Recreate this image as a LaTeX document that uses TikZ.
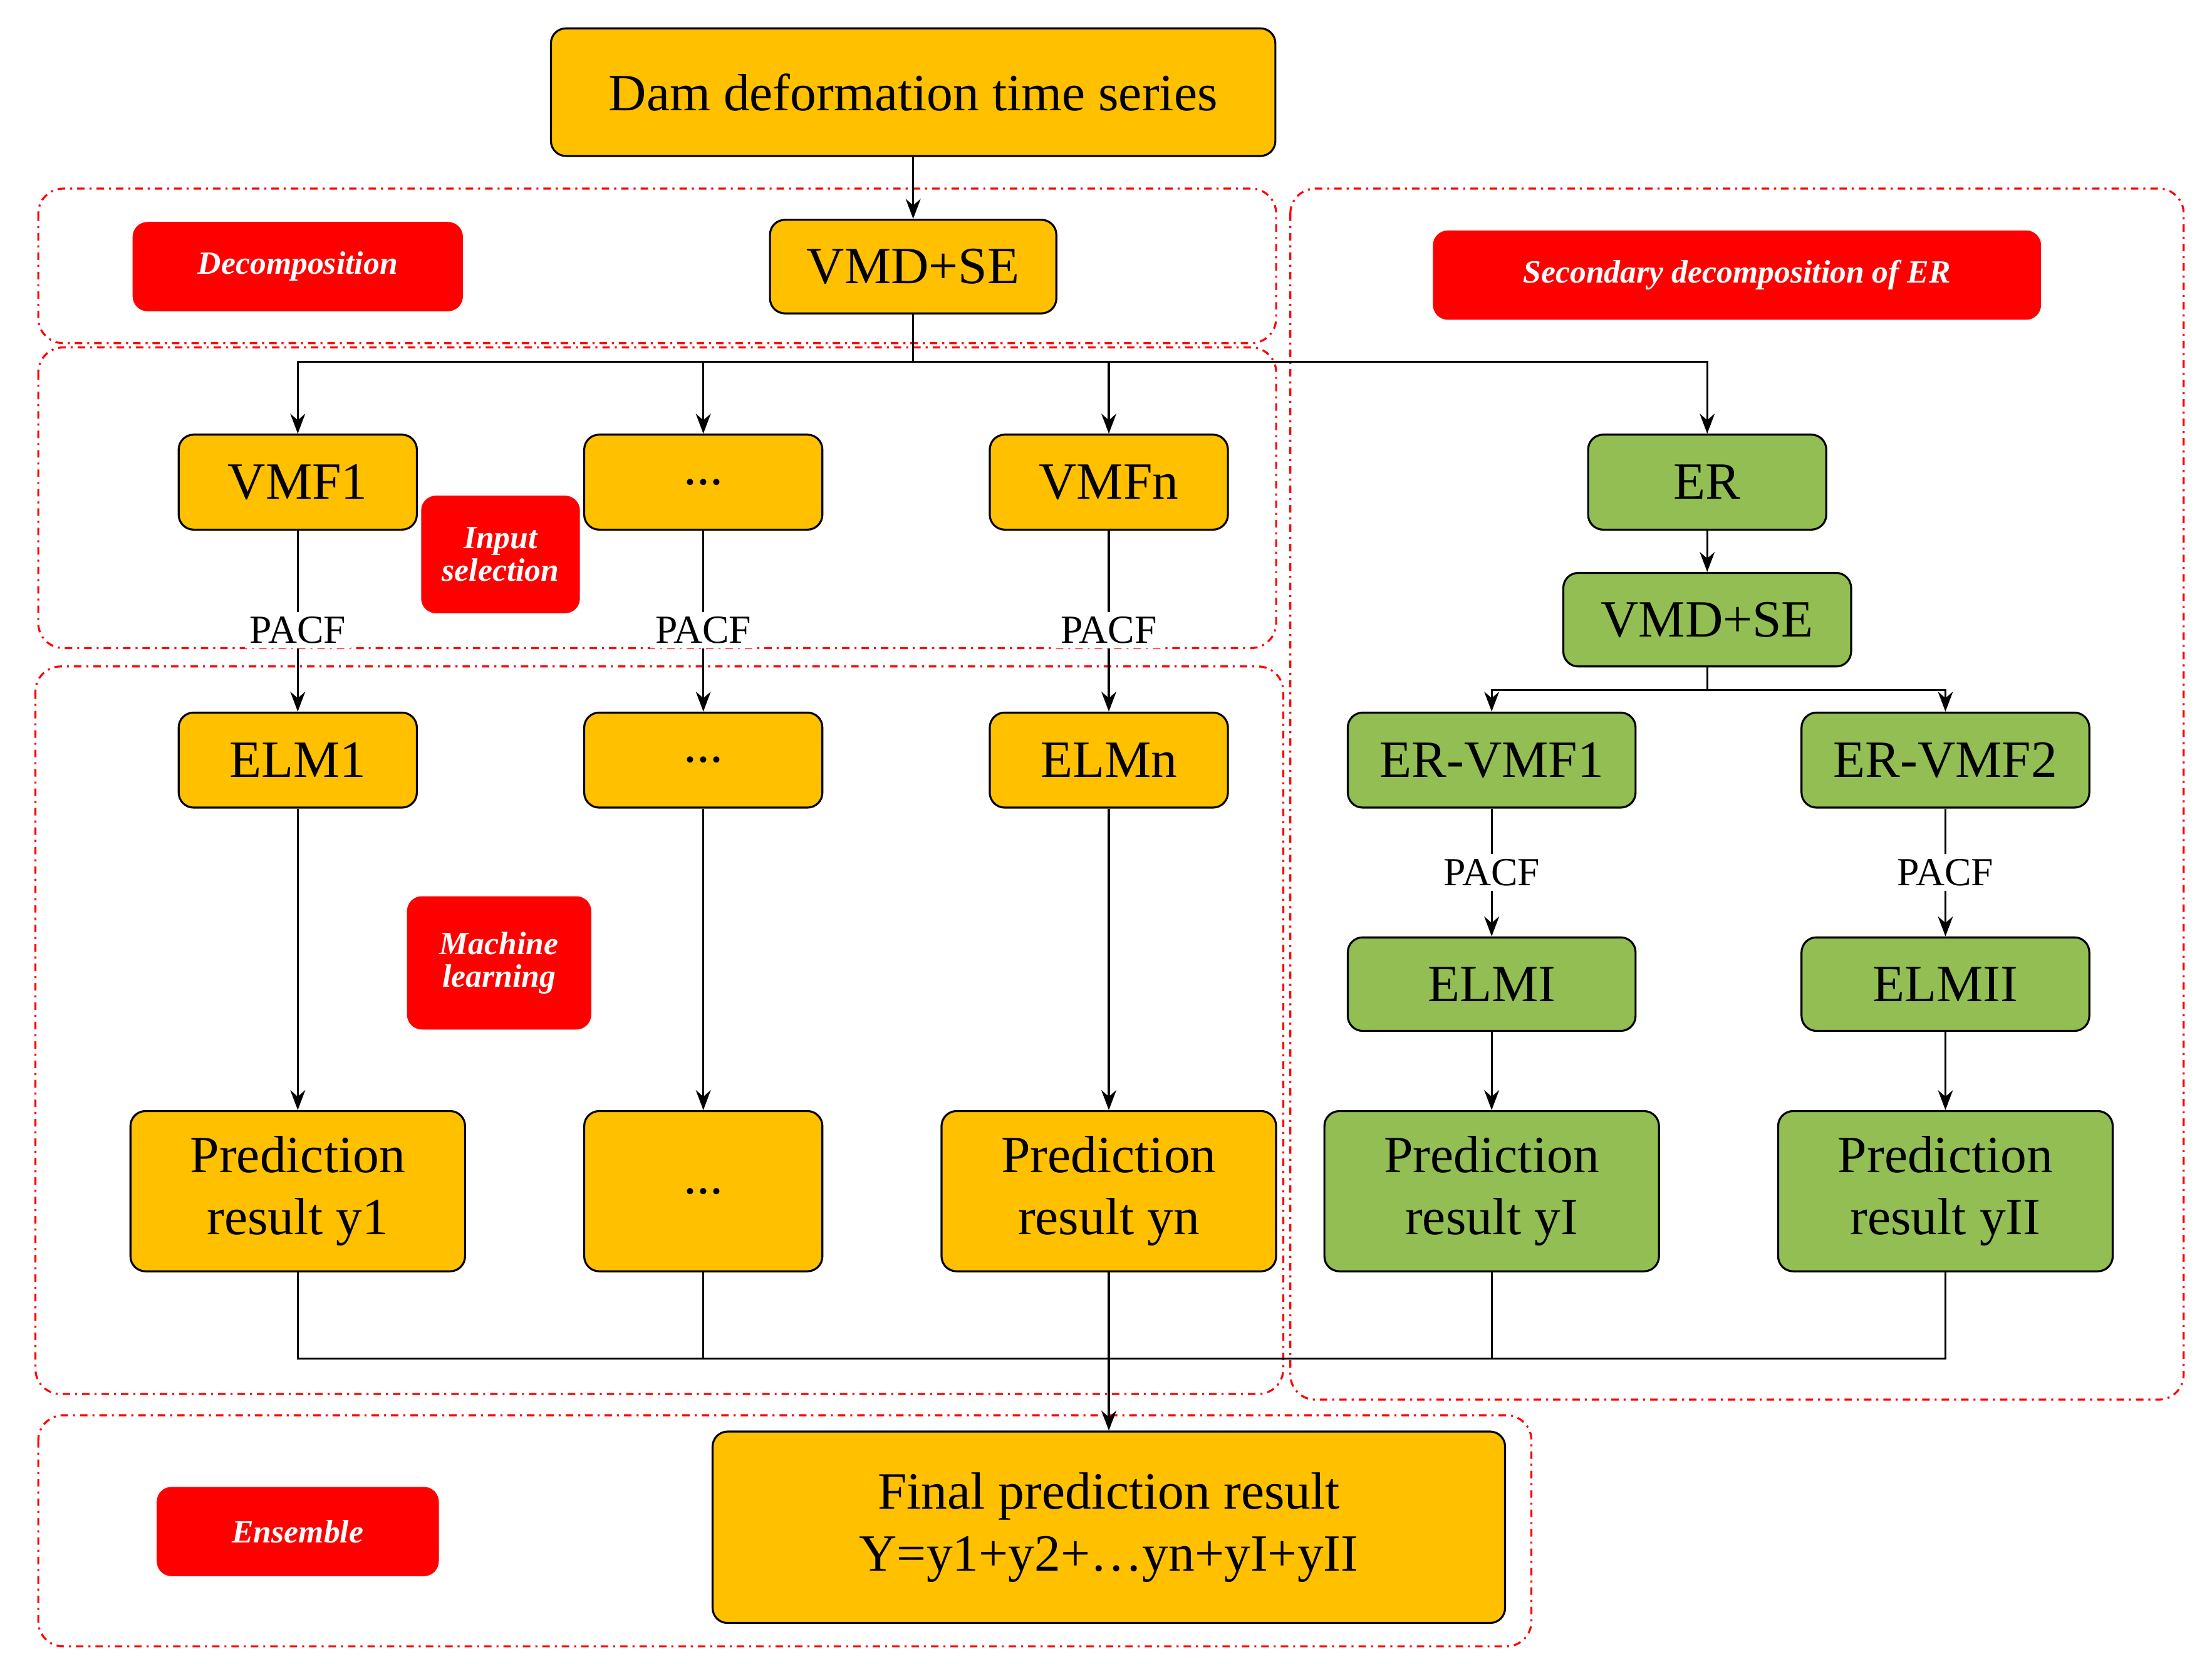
\documentclass[tikz,border=0pt]{standalone}
\usepackage{fontspec}
\setmainfont{Liberation Serif}
\usetikzlibrary{arrows.meta}
\definecolor{boxor}{RGB}{255,192,0}
\definecolor{boxgr}{RGB}{146,190,84}
\tikzset{
  box/.style={draw, thick, rounded corners=6pt, fill=boxor, align=center, font=\fontsize{21}{25}\selectfont},
  gbox/.style={box, fill=boxgr},
  tag/.style={fill=red, rounded corners=6pt, text=white, align=center, font=\fontsize{13}{16}\selectfont\bfseries\itshape},
  region/.style={draw=red, thick, dash dot, rounded corners=10pt},
  pacf/.style={fill=white, inner sep=2pt, font=\fontsize{16}{19}\selectfont},
  link/.style={thick},
  arr/.style={thick, -{Stealth[length=8pt]}}
}
\begin{document}
\begin{tikzpicture}[x=0.02cm, y=-0.02cm]
\useasboundingbox (0,0) rectangle (1560,1173);

% regions
\draw[region] (27,133) rectangle (900,242);
\draw[region] (27,245) rectangle (900,457);
\draw[region] (25,470) rectangle (905,983);
\draw[region] (910,133) rectangle (1540,987);
\draw[region] (27,998) rectangle (1080,1161);

% tags
\node[tag, minimum width=4.66cm, minimum height=1.26cm] (tdec) at (210,188) {Decomposition};
\node[tag, minimum width=2.24cm, minimum height=1.66cm] (tinp) at (353,391) {Input\\[-3pt]selection};
\node[tag, minimum width=8.58cm, minimum height=1.26cm] (tsec) at (1225,194) {Secondary decomposition of ER};
\node[tag, minimum width=2.6cm, minimum height=1.88cm] (tml) at (352,679) {Machine\\[-3pt]learning};
\node[tag, minimum width=3.98cm, minimum height=1.26cm] (tens) at (210,1080) {Ensemble};

% main chain
\node[box, minimum width=10.22cm, minimum height=1.8cm] (dam) at (644,65) {Dam deformation time series};
\node[box, minimum width=4.04cm, minimum height=1.32cm] (vmd) at (644,188) {VMD+SE};

\node[box, minimum width=3.36cm, minimum height=1.34cm] (vmf1) at (210,340) {VMF1};
\node[box, minimum width=3.36cm, minimum height=1.34cm] (vmfd) at (496,340) {...};
\node[box, minimum width=3.36cm, minimum height=1.34cm] (vmfn) at (782,340) {VMFn};
\node[gbox, minimum width=3.36cm, minimum height=1.34cm] (er) at (1204,340) {ER};
\node[gbox, minimum width=4.06cm, minimum height=1.32cm] (vmd2) at (1204,437) {VMD+SE};

\node[box, minimum width=3.36cm, minimum height=1.34cm] (elm1) at (210,536) {ELM1};
\node[box, minimum width=3.36cm, minimum height=1.34cm] (elmd) at (496,536) {...};
\node[box, minimum width=3.36cm, minimum height=1.34cm] (elmn) at (782,536) {ELMn};
\node[gbox, minimum width=4.06cm, minimum height=1.34cm] (ervmf1) at (1052,536) {ER-VMF1};
\node[gbox, minimum width=4.06cm, minimum height=1.34cm] (ervmf2) at (1372,536) {ER-VMF2};
\node[gbox, minimum width=4.06cm, minimum height=1.32cm] (elmI) at (1052,694) {ELMI};
\node[gbox, minimum width=4.06cm, minimum height=1.32cm] (elmII) at (1372,694) {ELMII};

\node[box, minimum width=4.72cm, minimum height=2.26cm] (pred1) at (210,840) {Prediction\\result y1};
\node[box, minimum width=3.36cm, minimum height=2.26cm] (predd) at (496,840) {...};
\node[box, minimum width=4.72cm, minimum height=2.26cm] (predn) at (782,840) {Prediction\\result yn};
\node[gbox, minimum width=4.72cm, minimum height=2.26cm] (predI) at (1052,840) {Prediction\\result yI};
\node[gbox, minimum width=4.72cm, minimum height=2.26cm] (predII) at (1372,840) {Prediction\\result yII};

\node[box, minimum width=11.18cm, minimum height=2.7cm] (final) at (782,1077) {Final prediction result\\Y=y1+y2+\dots yn+yI+yII};

% connectors
\coordinate (bus) at (644,255);
\coordinate (bot) at (782,958);
\draw[arr] (dam) -- (vmd);
\draw[link] (vmd) -- (bus);
\draw[arr] (bus) -| (vmf1);
\draw[arr] (bus) -| (vmfd);
\draw[arr] (bus) -| (vmfn);
\draw[arr] (bus) -| (er);
\draw[arr] (er) -- (vmd2);
\draw[arr] (vmd2.south) -- ++(0,16) -| (ervmf1);
\draw[arr] (vmd2.south) -- ++(0,16) -| (ervmf2);

\foreach \a/\b/\x in {vmf1/elm1/210, vmfd/elmd/496, vmfn/elmn/782}
  \draw[arr] (\a) -- node[pacf, pos=0.55] {PACF} (\b);
\foreach \a/\b in {ervmf1/elmI, ervmf2/elmII}
  \draw[arr] (\a) -- node[pacf, pos=0.5] {PACF} (\b);

\foreach \a/\b in {elm1/pred1, elmd/predd, elmn/predn, elmI/predI, elmII/predII}
  \draw[arr] (\a) -- (\b);

\draw[link] (pred1.south) |- (bot);
\draw[link] (predd.south) |- (bot);
\draw[link] (predI.south) |- (bot);
\draw[link] (predII.south) |- (bot);
\draw[arr] (predn) -- (final);
\end{tikzpicture}
\end{document}
